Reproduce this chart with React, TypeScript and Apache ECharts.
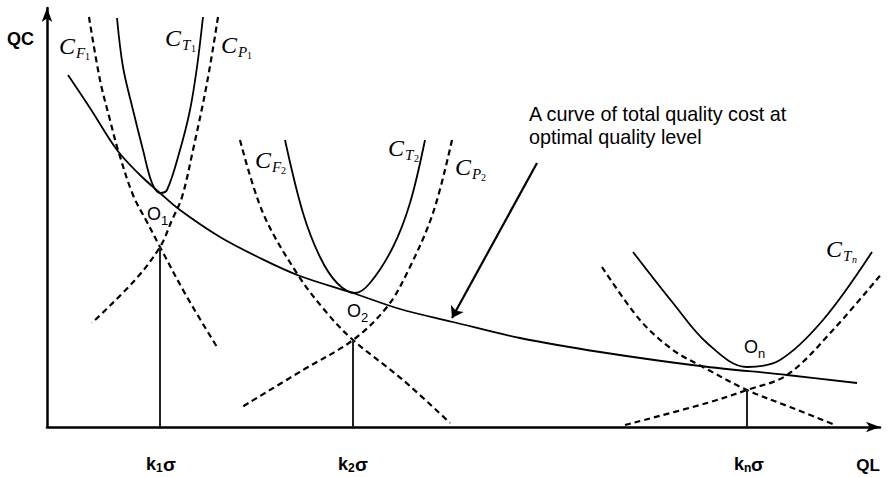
import React, { useEffect, useRef } from "react";
import * as echarts from "echarts";

// Value space: x 0..833 (QL), y 0..419 (QC)
const X_MAX = 833;
const Y_MAX = 419;

const totalCostCurve = [
  [21, 352], [43, 319], [70, 277], [93, 252], [113, 234], [133, 217], [173, 190],
  [213, 169], [253, 151], [306, 134], [353, 118], [406, 105], [473, 89], [553, 75],
  [653, 61], [740, 52], [810, 44],
];

const totalCost1 = [[70, 409], [76, 360], [86, 317], [96, 277], [105, 244], [113, 234], [120, 237], [133, 277], [143, 317], [150, 360], [156, 410]];
const failureCost1 = [[42, 410], [53, 347], [63, 307], [71, 277], [86, 232], [100, 205], [113, 180], [140, 130], [170, 80]];
const preventionCost1 = [[171, 410], [160, 344], [146, 277], [135, 230], [125, 207], [113, 180], [88, 147], [45, 104]];

const totalCost2 = [[238, 287], [256, 214], [273, 170], [290, 144], [308, 134], [323, 144], [346, 180], [363, 224], [378, 287]];
const failureCost2 = [[193, 287], [216, 214], [251, 152], [280, 114], [306, 87], [356, 47], [403, 4]];
const preventionCost2 = [[405, 287], [386, 214], [360, 154], [340, 120], [306, 87], [256, 57], [195, 20]];

const totalCostN = [[586, 175], [626, 124], [660, 84], [700, 60], [733, 67], [776, 107], [825, 175]];
const failureCostN = [[555, 160], [593, 107], [626, 77], [656, 60], [700, 37], [743, 20], [788, 2]];
const preventionCostN = [[578, 2], [660, 24], [700, 37], [740, 52], [786, 97], [846, 167]];

const optimumPoints = [[113, 180], [306, 87], [700, 37]];
const arrowFrom = [490, 264];
const arrowTo = [405, 109];

const curveLabelSubs = [["F", "1"], ["T", "1"], ["P", "1"], ["F", "2"], ["T", "2"], ["P", "2"], ["T", "n"]];
const optimumIdx = ["1", "2", "n"];
const tickIdx = ["1", "2", "n"];
const annotationLines = ["A curve of total quality cost at", "optimal quality level"];
const axisNames = ["QC", "QL"];

// layout (pixels)
const curveLabelPos = [[67, 46], [173, 38], [229, 45], [263, 160], [396, 148], [463, 167], [834, 249]];
const optimumLabelPos = [[154, 214], [354, 311], [751, 347]];
const tickLabelPos = [[146, 464], [338, 464], [734, 464]];

const SANS = "'Liberation Sans', Arial, sans-serif";
const SERIF = "'Liberation Serif', 'Times New Roman', serif";

function txt(x: number, y: number, text: string, size: number, opts: any = {}) {
  return {
    type: "text",
    x,
    y,
    silent: true,
    style: {
      text,
      fontSize: size,
      fontFamily: opts.family || SANS,
      fontStyle: opts.italic ? "italic" : "normal",
      fontWeight: opts.weight || "normal",
      fill: "#000",
      textAlign: opts.align || "left",
      textVerticalAlign: "middle",
    },
  };
}

function curve(data: number[][], dashed: boolean) {
  return {
    type: "line",
    data,
    smooth: 0.35,
    symbol: "none",
    clip: false,
    silent: true,
    lineStyle: { color: "#000", width: dashed ? 2.2 : 1.8, type: dashed ? [6, 4] : "solid" },
  };
}

export default function App() {
  const ref = useRef<HTMLDivElement>(null);
  useEffect(() => {
    document.body.style.margin = "0";
    const chart = echarts.init(ref.current!, null, { renderer: "svg" });
    const graphics: any[] = [];
    curveLabelSubs.forEach(([s, i], k) => {
      const [x, y] = curveLabelPos[k];
      graphics.push(txt(x, y, "C", 24, { family: SERIF, italic: true, align: "center" }));
      graphics.push(txt(x + 9, y + 7, s, 15, { family: SERIF, italic: true }));
      graphics.push(txt(x + 18, y + 10, i, 10, { family: SERIF, italic: i === "n" }));
    });
    optimumIdx.forEach((i, k) => {
      const [x, y] = optimumLabelPos[k];
      graphics.push(txt(x, y, "O", 18, { align: "center" }));
      graphics.push(txt(x + 7, y + 6, i, 13));
    });
    tickIdx.forEach((i, k) => {
      const [x, y] = tickLabelPos[k];
      graphics.push(txt(x, y, "k", 18, { weight: "bold" }));
      graphics.push(txt(x + 10, y + 4, i, 12, { weight: "bold" }));
      graphics.push(txt(x + 17, y, "σ", 19, { weight: "bold" }));
    });
    graphics.push(txt(7, 39, axisNames[0], 18, { weight: "bold" }));
    graphics.push(txt(868, 465, axisNames[1], 17, { align: "center", weight: "bold" }));
    annotationLines.forEach((t, k) => graphics.push(txt(529, 114 + k * 23, t, 19.8)));

    const axisCommon = {
      type: "value",
      axisLine: {
        show: true,
        symbol: ["none", "arrow"],
        symbolSize: [8, 14],
        lineStyle: { color: "#000", width: 2.5 },
      },
      axisTick: { show: false },
      axisLabel: { show: false },
      splitLine: { show: false },
    };

    chart.setOption({
      animation: false,
      backgroundColor: "#fff",
      grid: { left: 47, right: 14, top: 8, bottom: 50 },
      xAxis: { ...axisCommon, min: 0, max: X_MAX },
      yAxis: { ...axisCommon, min: 0, max: Y_MAX },
      series: [
        curve(totalCostCurve, false),
        curve(totalCost1, false),
        curve(failureCost1, true),
        curve(preventionCost1, true),
        curve(totalCost2, false),
        curve(failureCost2, true),
        curve(preventionCost2, true),
        curve(totalCostN, false),
        curve(failureCostN, true),
        curve(preventionCostN, true),
        ...optimumPoints.map((p) => ({
          type: "line",
          data: [[p[0], 0], p],
          symbol: "none",
          silent: true,
          lineStyle: { color: "#222", width: 2 },
        })),
        {
          type: "lines",
          coordinateSystem: "cartesian2d",
          silent: true,
          symbol: ["none", "arrow"],
          symbolSize: 11,
          data: [{ coords: [arrowFrom, arrowTo] }],
          lineStyle: { color: "#000", width: 2.2, opacity: 1 },
        },
      ],
      graphic: graphics,
    });
    return () => chart.dispose();
  }, []);
  return <div ref={ref} style={{ position: "absolute", left: 0, top: 0, width: 894, height: 477 }} />;
}
